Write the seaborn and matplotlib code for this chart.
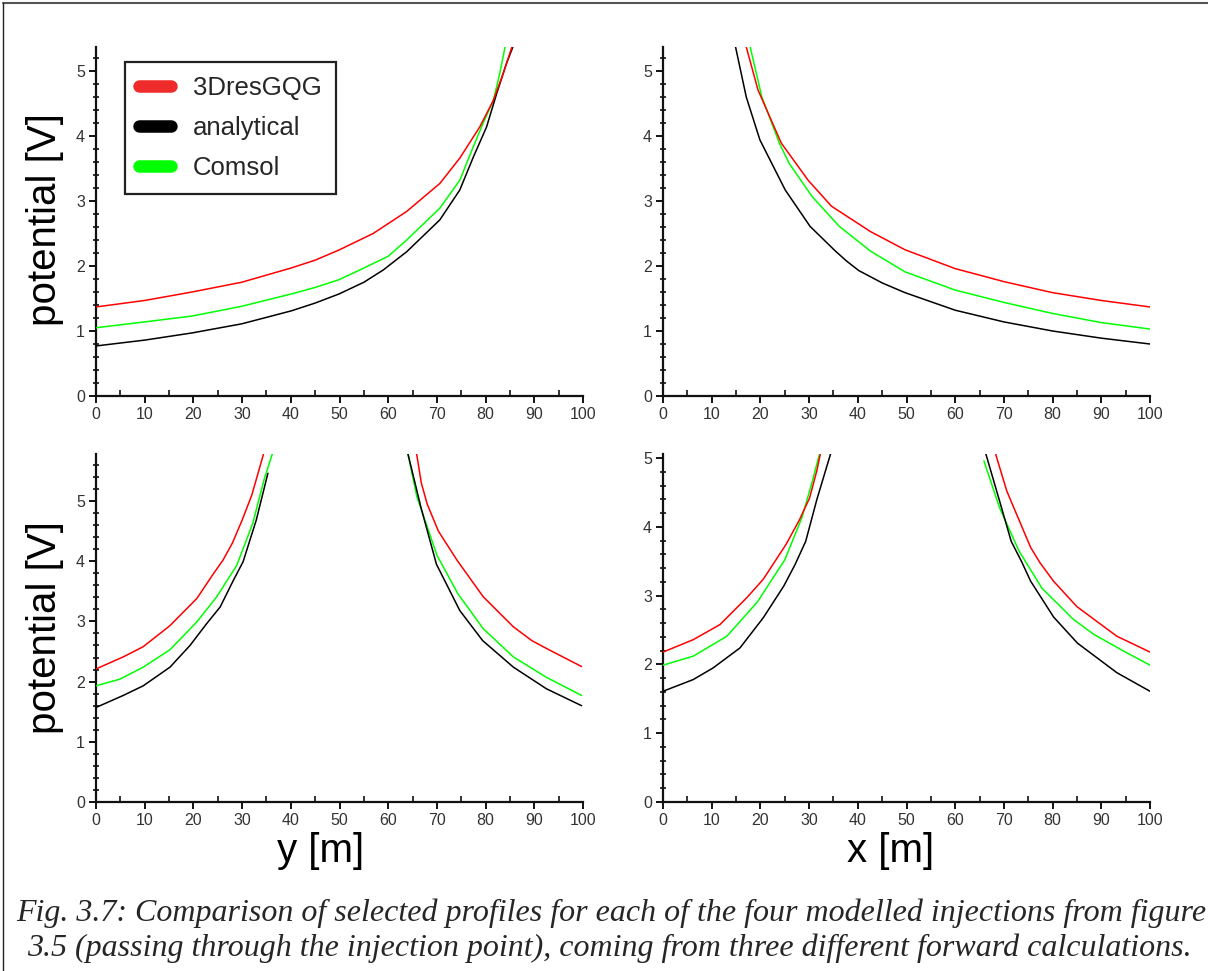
import matplotlib
matplotlib.use("Agg")
import matplotlib.pyplot as plt
from matplotlib.lines import Line2D
from matplotlib.ticker import MultipleLocator
import pandas as pd
import seaborn as sns

# ---- profile data: distance [m] -> potential [V] ----
# top-left profile (along y)
tl_red_x = [0, 10, 19.7, 29.9, 40.1, 45, 50, 56.9, 63.8, 70.6, 74.7, 78.8, 81.6, 83.6, 85.4]
tl_red_v = [1.37, 1.47, 1.6, 1.75, 1.97, 2.09, 2.25, 2.5, 2.84, 3.27, 3.66, 4.14, 4.55, 4.96, 5.37]
tl_grn_x = [0, 10, 19.7, 29.9, 40.1, 45, 49.9, 54.2, 60, 63.8, 70.6, 74.7, 77.5, 79.5, 81.6, 82.9, 84.0]
tl_grn_v = [1.05, 1.14, 1.23, 1.38, 1.57, 1.67, 1.79, 1.94, 2.15, 2.40, 2.89, 3.32, 3.84, 4.20, 4.55, 4.96, 5.37]
tl_blk_x = [0, 10, 19.7, 29.9, 40.1, 45, 49.9, 55, 59, 63.8, 70.6, 74.7, 77.5, 80.2, 82.3, 84.3, 85.6]
tl_blk_v = [0.77, 0.86, 0.97, 1.11, 1.31, 1.43, 1.57, 1.75, 1.94, 2.22, 2.71, 3.17, 3.68, 4.14, 4.66, 5.12, 5.37]

# top-right profile (along x)
tr_red_x = [17.1, 19.5, 24.3, 29.8, 34.6, 42.6, 49.7, 60, 70, 80, 90, 100]
tr_red_v = [5.37, 4.71, 3.89, 3.32, 2.92, 2.53, 2.25, 1.96, 1.76, 1.59, 1.47, 1.37]
tr_grn_x = [17.9, 20.3, 23.9, 25.9, 30.6, 36.2, 42.6, 49.7, 60, 70, 80, 90, 100]
tr_grn_v = [5.37, 4.6, 3.89, 3.58, 3.07, 2.61, 2.23, 1.91, 1.63, 1.44, 1.27, 1.13, 1.03]
tr_blk_x = [14.9, 17.1, 19.9, 25.1, 30.2, 35.4, 37.8, 40.2, 45, 49.7, 60, 70, 80, 90, 100]
tr_blk_v = [5.37, 4.6, 3.94, 3.17, 2.61, 2.23, 2.07, 1.93, 1.74, 1.59, 1.32, 1.14, 1.0, 0.89, 0.80]

# bottom-left profile (along y), two branches around the injection point
bl_red_x1 = [0, 5.6, 9.7, 15.2, 20.7, 24.1, 26.1, 28, 30, 32, 34.4]
bl_red_v1 = [2.21, 2.41, 2.58, 2.93, 3.38, 3.79, 4.02, 4.3, 4.68, 5.1, 5.78]
bl_red_x2 = [65.8, 66.8, 68, 70.3, 74.1, 79.5, 85.7, 89.5, 92.5, 99.7]
bl_red_v2 = [5.8, 5.3, 4.95, 4.5, 4.02, 3.41, 2.91, 2.68, 2.55, 2.25]
bl_grn_x1 = [0, 4.9, 9.7, 15.2, 20.7, 24.8, 28.9, 32.2, 34.5, 36.2]
bl_grn_v1 = [1.93, 2.04, 2.24, 2.53, 2.99, 3.41, 3.93, 4.63, 5.35, 5.78]
bl_grn_x2 = [64, 65.9, 70, 74.3, 79.5, 85.7, 92.5, 99.7]
bl_grn_v2 = [5.8, 5.07, 4.1, 3.46, 2.88, 2.41, 2.07, 1.77]
bl_blk_x1 = [0, 5.6, 9.7, 15.2, 19.3, 22.7, 25.5, 28.2, 30.2, 32.9, 35.3]
bl_blk_v1 = [1.57, 1.77, 1.93, 2.24, 2.6, 2.96, 3.24, 3.68, 3.99, 4.68, 5.46]
bl_blk_x2 = [64, 66.7, 69.9, 74.7, 79.4, 85.7, 92.5, 99.7]
bl_blk_v2 = [5.8, 4.9, 3.95, 3.18, 2.68, 2.24, 1.88, 1.6]

# bottom-right profile (along x), two branches around the injection point
br_red_x1 = [0, 6.2, 11.7, 17.2, 20.6, 23, 25.3, 28, 30.1, 31.6, 32.3]
br_red_v1 = [2.18, 2.36, 2.58, 2.97, 3.24, 3.5, 3.75, 4.1, 4.42, 4.82, 5.06]
br_red_x2 = [68.3, 70.6, 75.5, 77.4, 80.2, 85, 93.2, 100]
br_red_v2 = [5.06, 4.52, 3.7, 3.48, 3.21, 2.84, 2.41, 2.18]
br_grn_x1 = [0, 6.2, 13.1, 19.4, 22.6, 25, 28.5, 30.5, 32.1]
br_grn_v1 = [1.99, 2.12, 2.41, 2.91, 3.26, 3.52, 4.13, 4.62, 5.05]
br_grn_x2 = [65.9, 69.1, 73.1, 77.8, 81.5, 84.2, 88.4, 95.2, 100]
br_grn_v2 = [4.96, 4.28, 3.65, 3.11, 2.85, 2.66, 2.44, 2.17, 1.99]
br_blk_x1 = [0, 6.2, 10.3, 15.8, 20.6, 24.8, 27.1, 29.3, 31.6, 34.4]
br_blk_v1 = [1.61, 1.78, 1.95, 2.24, 2.68, 3.14, 3.45, 3.79, 4.4, 5.06]
br_blk_x2 = [66.3, 69.1, 71.5, 73.6, 75.5, 80.2, 85.1, 93.2, 100]
br_blk_v2 = [5.06, 4.38, 3.79, 3.5, 3.21, 2.69, 2.31, 1.88, 1.61]

sources = ["3DresGQG", "analytical", "Comsol"]
line_colors = {"3DresGQG": "#ff0000", "analytical": "#000000", "Comsol": "#00ff00"}
legend_colors = {"3DresGQG": "#ee2a2a", "analytical": "#000000", "Comsol": "#00ff00"}
x_labels = ["y [m]", "x [m]"]
y_label = "potential [V]"
caption = ("Fig. 3.7: Comparison of selected profiles for each of the four modelled injections from figure\n"
           "3.5 (passing through the injection point), coming from three different forward calculations.")

panels = {
    "tl": {"3DresGQG": [(tl_red_x, tl_red_v)], "analytical": [(tl_blk_x, tl_blk_v)],
           "Comsol": [(tl_grn_x, tl_grn_v)]},
    "tr": {"3DresGQG": [(tr_red_x, tr_red_v)], "analytical": [(tr_blk_x, tr_blk_v)],
           "Comsol": [(tr_grn_x, tr_grn_v)]},
    "bl": {"3DresGQG": [(bl_red_x1, bl_red_v1), (bl_red_x2, bl_red_v2)],
           "analytical": [(bl_blk_x1, bl_blk_v1), (bl_blk_x2, bl_blk_v2)],
           "Comsol": [(bl_grn_x1, bl_grn_v1), (bl_grn_x2, bl_grn_v2)]},
    "br": {"3DresGQG": [(br_red_x1, br_red_v1), (br_red_x2, br_red_v2)],
           "analytical": [(br_blk_x1, br_blk_v1), (br_blk_x2, br_blk_v2)],
           "Comsol": [(br_grn_x1, br_grn_v1), (br_grn_x2, br_grn_v2)]},
}
y_top = {"tl": 5.37, "tr": 5.37, "bl": 5.78, "br": 5.06}

rows = []
for pname, series in panels.items():
    for src, branches in series.items():
        for b, (xs, vs) in enumerate(branches):
            for xv, vv in zip(xs, vs):
                rows.append({"panel": pname, "source": src, "branch": b,
                             "distance": xv, "potential": vv})
df = pd.DataFrame(rows)

sns.set_style("ticks")
plt.rcParams["font.family"] = ["Liberation Sans", "DejaVu Sans"]

W, H = 1208, 971
fig = plt.figure(figsize=(W / 100, H / 100), dpi=100)

# axes boxes in pixels: left, top, right, bottom
boxes = {"tl": (96, 47, 583, 396), "tr": (663, 47, 1150, 396),
         "bl": (96, 454, 583, 802), "br": (663, 454, 1150, 802)}

axes = {}
for pname, (l, t, r, b) in boxes.items():
    ax = fig.add_axes([l / W, 1 - b / H, (r - l) / W, (b - t) / H])
    axes[pname] = ax
    sub = df[df["panel"] == pname]
    for z, src in enumerate(["Comsol", "analytical", "3DresGQG"]):
        s = sub[sub["source"] == src]
        sns.lineplot(data=s, x="distance", y="potential", units="branch",
                     estimator=None, color=line_colors[src], lw=1.1, ax=ax,
                     zorder=3 + z, legend=False)
    ax.set_xlim(0, 100)
    ax.set_ylim(0, y_top[pname])
    ax.xaxis.set_major_locator(MultipleLocator(10))
    ax.xaxis.set_minor_locator(MultipleLocator(5))
    ax.yaxis.set_major_locator(MultipleLocator(1))
    ax.yaxis.set_minor_locator(MultipleLocator(0.2))
    for side in ("top", "right"):
        ax.spines[side].set_visible(False)
    for side in ("left", "bottom"):
        ax.spines[side].set_linewidth(1.6)
        ax.spines[side].set_color("#111111")
    ax.tick_params(axis="both", which="major", direction="out", length=5, width=1.4,
                   color="#111111", labelsize=11.5, labelcolor="#333333", pad=3)
    ax.tick_params(axis="x", which="minor", direction="in", length=4, width=1.2, color="#111111")
    ax.tick_params(axis="y", which="minor", direction="inout", length=5, width=1.2, color="#111111")
    ax.set_xlabel("")
    ax.set_ylabel("")
    ax.set_facecolor("white")

# axis titles
for pname in ("tl", "bl"):
    ax = axes[pname]
    ax.set_ylabel(y_label, fontsize=29, color="black")
    ax.yaxis.label.set_va("center")
for pname, lab in (("bl", x_labels[0]), ("br", x_labels[1])):
    ax = axes[pname]
    ax.set_xlabel(lab, fontsize=29, color="black")
    ax.xaxis.label.set_va("center")
axes["tl"].yaxis.set_label_coords((45 - 96) / 487, (396 - 220) / 349)
axes["bl"].yaxis.set_label_coords((45 - 96) / 487, (802 - 628) / 348)
axes["bl"].xaxis.set_label_coords((321 - 96) / 487, (802 - 851) / 348)
axes["br"].xaxis.set_label_coords((891 - 663) / 487, (802 - 851) / 348)

# legend
handles = [Line2D([0], [0], color=legend_colors[s], lw=9, solid_capstyle="round") for s in sources]
leg = axes["tl"].legend(handles, sources, loc="upper left",
                        bbox_to_anchor=((125 - 96) / 487, (396 - 62) / 349),
                        borderaxespad=0, frameon=True, fancybox=False, fontsize=18.5,
                        handlelength=1.25, handletextpad=0.85, labelspacing=0.62,
                        borderpad=0.55)
leg.get_frame().set_edgecolor("#222222")
leg.get_frame().set_linewidth(1.6)
leg.get_frame().set_alpha(1)

# caption
lines = caption.split("\n")
cap_kw = dict(ha="center", va="center", family=["Liberation Serif", "DejaVu Serif"],
              style="italic", fontsize=22)
cap1 = fig.text(611 / W, 1 - 913 / H, lines[0], **cap_kw)
cap2 = fig.text(609 / W, 1 - 948 / H, lines[1], **cap_kw)
fig.canvas.draw()
w1 = cap1.get_window_extent().width
fs = 22 * 1187 / w1
cap1.set_fontsize(fs)
cap2.set_fontsize(fs)

# page frame
fig.add_artist(Line2D([3 / W, 1], [1 - 3 / H, 1 - 3 / H], transform=fig.transFigure,
                      color="#555555", lw=1.5))
fig.add_artist(Line2D([3 / W, 3 / W], [0, 1 - 3 / H], transform=fig.transFigure,
                      color="#222222", lw=1.0))

fig.savefig("out.png", dpi=100, facecolor="white")
